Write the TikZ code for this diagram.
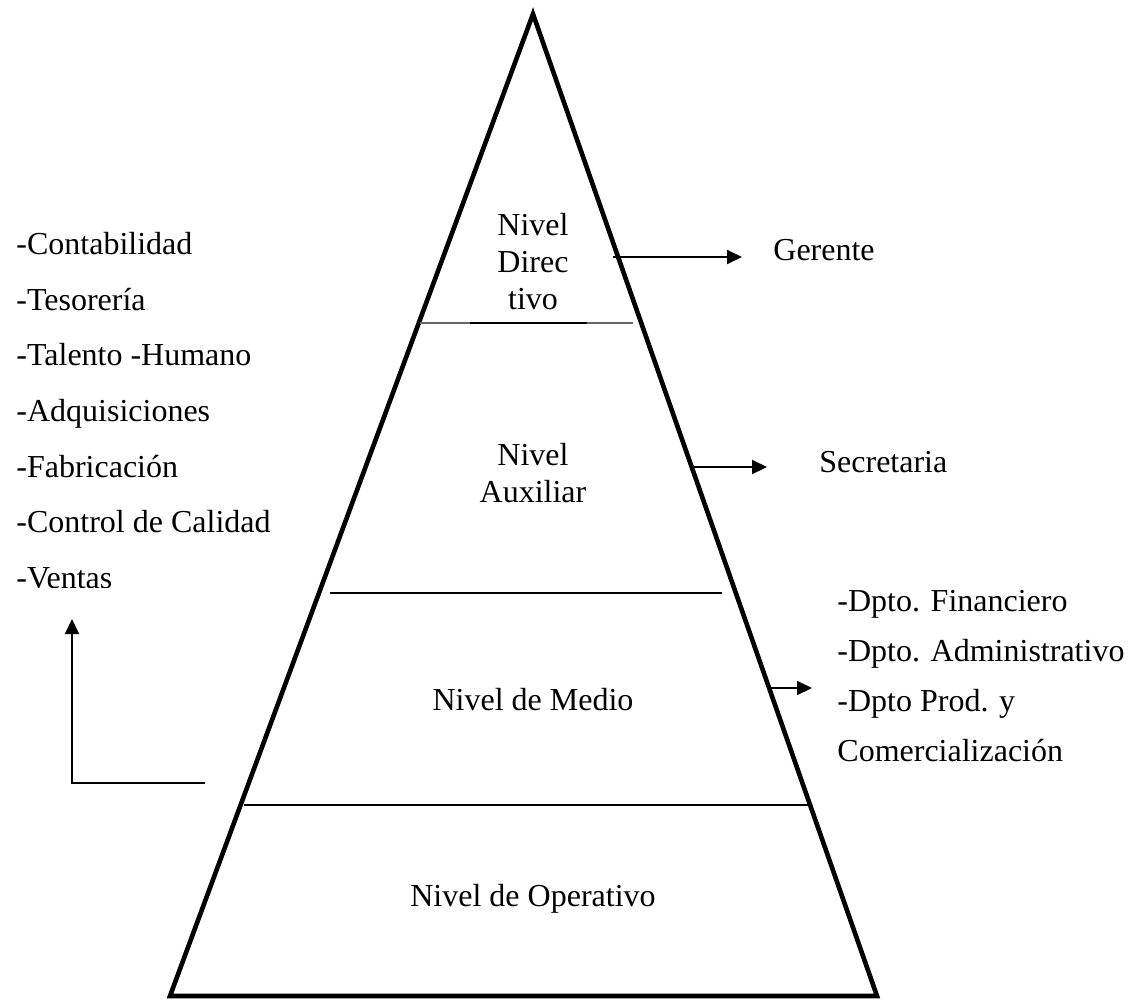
\documentclass[tikz,border=0pt]{standalone}
\usepackage{fontspec}
\setmainfont{Liberation Serif}
\usetikzlibrary{arrows.meta,calc}
\tikzset{
  edge/.style={line width=2.3pt, line join=miter},
  sep/.style={line width=1pt, draw=#1},
  sep/.default=black,
  lvl/.style={align=center, inner sep=0pt, font=\fontsize{16}{18.5}\selectfont},
  items/.style={align=left, anchor=north west, inner sep=0pt, font=\fontsize{16}{#1}\selectfont},
  lbl/.style={anchor=west, inner sep=0pt, font=\fontsize{16}{18.5}\selectfont},
  flow/.style={-{Triangle[length=7.5pt,width=7pt]}, line width=1pt},
}

\begin{document}
\begin{tikzpicture}[x=0.5pt, y=-0.5pt]
  \useasboundingbox (0,0) rectangle (1129,1001);
  % pyramid
  \coordinate (top) at (533,14);
  \coordinate (bl) at (170,996);
  \coordinate (br) at (877,996);
  \draw[edge] (top) -- (br) -- (bl) -- cycle;
  % level separators
  \draw[sep=black!60] (420,323) -- (633,323);
  \draw[sep] (470,323) -- (587,323);
  \draw[sep] (330,593) -- (722,593);
  \draw[sep] (244,805) -- (808,805);
  % levels
  \node[lvl] (dir) at (533,262) {Nivel\\Direc\\tivo};
  \node[lvl] (aux) at (533,473) {Nivel\\Auxiliar};
  \node[lvl] (med) at (533,700) {Nivel de Medio};
  \node[lvl] (ope) at (533,899) {Nivel de Operativo};
  % side labels
  \node[lbl] (ger) at (773,250) {Gerente};
  \node[lbl] (sec) at (819,462) {Secretaria};
  \node[items=25pt] (dptos) at (837,590) {-Dpto. Financiero\\-Dpto. Administrativo\\-Dpto Prod. y\\Comercialización};
  \begin{scope}
    \clip (0,200) rectangle (300,587);
    \node[items=27.8pt] (areas) at (16,232) {-Contabilidad\\-Tesorería\\-Talento -Humano\\-Adquisiciones\\-Fabricación\\-Control de Calidad\\-Ventas};
  \end{scope}
  % arrows
  \coordinate (gerS) at (613,257);
  \coordinate (secS) at (693,467);
  \coordinate (dptS) at (767,688);
  \coordinate (opeS) at (205,783);
  \coordinate (areasIn) at (72,619);
  \draw[flow, shorten >=15.5pt] (gerS) -- (gerS -| ger.west);
  \draw[flow, shorten >=26pt] (secS) -- (secS -| sec.west);
  \draw[flow, shorten >=12.5pt] (dptS) -- (dptS -| dptos.west);
  \draw[flow] (opeS) -| (areasIn);
\end{tikzpicture}
\end{document}
